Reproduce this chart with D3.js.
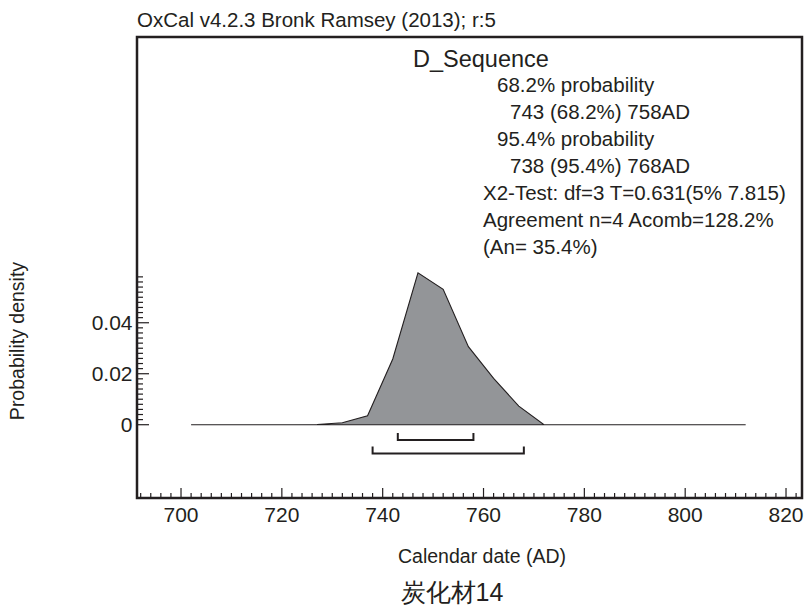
<!DOCTYPE html>
<html><head><meta charset="utf-8">
<script src="https://cdn.jsdelivr.net/npm/d3@7"></script>
<style>
body{margin:0;background:#fff;}
text{font-family:"Liberation Sans",Arial,Helvetica,sans-serif;fill:#231f20;}
</style></head>
<body><svg id="c" width="809" height="608"></svg>
<script>
// ---- data ----
const years = [702,707,712,717,722,727,732,737,742,747,752,757,762,767,772,777,782,787,792,797,802,807,812];
const density = [0,0,0,0,0,0.0001,0.0008,0.0035,0.0258,0.0596,0.0531,0.0306,0.0182,0.0073,0,0,0,0,0,0,0,0,0];
const ranges = [[743,758],[738,768]];          // 68.2%, 95.4%
const xTicks = [700,720,740,760,780,800,820];
const yTicks = [0,0.02,0.04];
const titleText = "OxCal v4.2.3 Bronk Ramsey (2013); r:5";
const nameText = "D_Sequence";
const infoLines = [
  ["68.2% probability",1],
  ["743 (68.2%) 758AD",2],
  ["95.4% probability",1],
  ["738 (95.4%) 768AD",2],
  ["X2-Test: df=3 T=0.631(5% 7.815)",0],
  ["Agreement n=4 Acomb=128.2%",0],
  ["(An= 35.4%)",0]
];
const xLabel = "Calendar date (AD)";
const yLabel = "Probability density";
const caption = "炭化材14";

// ---- layout ----
const L=137,R=802,T=37,B=498;
const ink="#231f20";
const svg=d3.select("#c");
const x=d3.scaleLinear().domain([691.27,823.17]).range([L,R]);
const y=d3.scaleLinear().domain([-0.02875,0.1521]).range([B,T]);

svg.append("text").attr("x",L).attr("y",26.5).attr("font-size",20.5).text(titleText);

// area
const pts=years.map((d,i)=>[d,density[i]]);
const area=d3.area().x(d=>x(d[0])).y0(y(0)).y1(d=>y(d[1]));
svg.append("path").datum(pts).attr("d",area).attr("fill","#939598").attr("stroke",ink).attr("stroke-width",1.1).attr("stroke-linejoin","miter");

// brackets
const bY=[440,453.5];
ranges.forEach((r,i)=>{
  const x0=x(r[0]),x1=x(r[1]),yy=bY[i];
  svg.append("path").attr("d",`M${x0},${yy-7}V${yy}H${x1}V${yy-7}`).attr("fill","none").attr("stroke",ink).attr("stroke-width",2);
});

// x ticks
const minorX=d3.range(692,823,2);
svg.append("g").selectAll("line").data(minorX).join("line")
  .attr("x1",d=>x(d)).attr("x2",d=>x(d)).attr("y1",B).attr("y2",d=>d%20===0?B-10:B-5)
  .attr("stroke",ink).attr("stroke-width",1.2);
svg.append("g").selectAll("text").data(xTicks).join("text")
  .attr("x",d=>x(d)).attr("y",521.5).attr("text-anchor","middle").attr("font-size",21).text(d=>d);

// y ticks
const minorY=d3.range(0,29).map(i=>i*0.002).concat([0.058]);
svg.append("g").selectAll("line").data(minorY).join("line")
  .attr("y1",d=>y(d)).attr("y2",d=>y(d)).attr("x1",L).attr("x2",(d,i)=>i%10===0?L+12:L+6)
  .attr("stroke",ink).attr("stroke-width",1.2);
svg.append("g").selectAll("text").data(yTicks).join("text")
  .attr("x",132.5).attr("y",d=>y(d)+7.5).attr("text-anchor","end").attr("font-size",21).text(d=>d===0?"0":d.toFixed(2));

// frame
svg.append("rect").attr("x",L).attr("y",T).attr("width",R-L).attr("height",B-T).attr("fill","none").attr("stroke",ink).attr("stroke-width",2.5);

// text block
svg.append("text").attr("x",413).attr("y",66.5).attr("font-size",23.5).text(nameText);
const indents=[483,497,510];
infoLines.forEach((l,i)=>{
  svg.append("text").attr("x",indents[l[1]]).attr("y",91.7+i*27.05).attr("font-size",20.5).text(l[0]);
});

// axis titles
svg.append("text").attr("x",482).attr("y",563).attr("text-anchor","middle").attr("font-size",19.5).text(xLabel);
svg.append("text").attr("transform","translate(24,341) rotate(-90)").attr("text-anchor","middle").attr("font-size",19.5).text(yLabel);
svg.append("text").attr("x",452).attr("y",601).attr("text-anchor","middle").attr("font-size",25).text(caption);
</script></body></html>
